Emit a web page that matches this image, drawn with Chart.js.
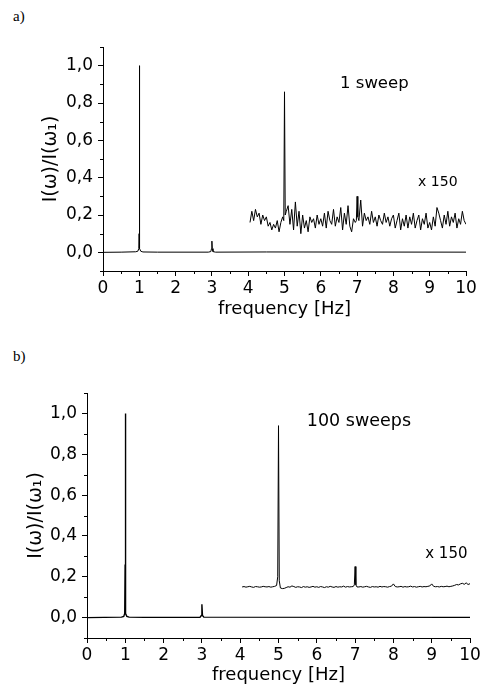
<!DOCTYPE html>
<html><head><meta charset="utf-8">
<script src="https://cdn.jsdelivr.net/npm/chart.js@4/dist/chart.umd.min.js"></script>
<style>
html,body{margin:0;padding:0;background:#fff;width:484px;height:688px;overflow:hidden}
.wrap{position:absolute;left:0;width:484px}
.lab{position:absolute;font-family:"Liberation Serif","DejaVu Serif",serif;font-size:15px;color:#000}
</style></head><body>
<div class="lab" style="left:13px;top:8px">a)</div>
<div class="lab" style="left:13px;top:348px">b)</div>
<div class="wrap" style="top:0;height:330px"><canvas id="c1"></canvas></div>
<div class="wrap" style="top:330px;height:358px"><canvas id="c2"></canvas></div>
<script>
// ---- data ----
const xTickValues = [0,1,2,3,4,5,6,7,8,9,10];
const yTickValues = [0,0.2,0.4,0.6,0.8,1.0];
const xMinorValues = [0.5,1.5,2.5,3.5,4.5,5.5,6.5,7.5,8.5,9.5];
const yMinorValues = [-0.1,0.1,0.3,0.5,0.7,0.9,1.1];

// panel a) main spectrum (1 sweep)
const topMainFreq = [0,0.5,0.9,0.96,0.985,0.995,1.0,1.005,1.015,1.04,1.1,1.5,2.9,2.97,2.99,3.0,3.01,3.03,3.1,4.5,10];
const topMainVal  = [0,0.001,0.003,0.006,0.02,0.1,1.0,0.42,0.02,0.006,0.002,0.001,0.001,0.004,0.02,0.06,0.02,0.004,0.001,0.002,0.001];

// panel b) main spectrum (100 sweeps)
const botMainFreq = [0,0.9,0.96,0.985,0.995,1.0,1.005,1.015,1.04,1.1,1.5,2.95,2.985,3.0,3.015,3.05,10];
const botMainVal  = [0,0.002,0.006,0.02,0.26,1.0,0.58,0.02,0.006,0.002,0.001,0.001,0.01,0.065,0.01,0.002,0.001];

// x 150 magnified traces (shared frequency grid)
const zoomFreq = [
4.05,4.1,4.15,4.2,4.25,4.3,4.35,4.4,4.45,4.5,4.55,4.6,4.65,4.7,4.75,4.8,4.85,4.9,4.95,4.98,5,5.02,
5.05,5.1,5.15,5.2,5.25,5.3,5.35,5.4,5.45,5.5,5.55,5.6,5.65,5.7,5.75,5.8,5.85,5.9,5.95,6,
6.05,6.1,6.15,6.2,6.25,6.3,6.35,6.4,6.45,6.5,6.55,6.6,6.65,6.7,6.75,6.8,6.85,6.9,6.95,6.98,7,7.02,
7.05,7.1,7.15,7.2,7.25,7.3,7.35,7.4,7.45,7.5,7.55,7.6,7.65,7.7,7.75,7.8,7.85,7.9,7.95,8,
8.05,8.1,8.15,8.2,8.25,8.3,8.35,8.4,8.45,8.5,8.55,8.6,8.65,8.7,8.75,8.8,8.85,8.9,8.95,9,
9.05,9.1,9.15,9.2,9.25,9.3,9.35,9.4,9.45,9.5,9.55,9.6,9.65,9.7,9.75,9.8,9.85,9.9,9.95,10];

const topZoomVal = [
0.16,0.22,0.17,0.23,0.19,0.21,0.15,0.20,0.17,0.19,0.14,0.16,0.12,0.15,0.13,0.17,0.11,0.16,0.19,0.17,0.86,0.20,
0.22,0.25,0.15,0.23,0.12,0.27,0.14,0.22,0.10,0.20,0.13,0.17,0.11,0.19,0.16,0.18,0.13,0.20,0.15,0.18,
0.14,0.21,0.13,0.22,0.17,0.15,0.23,0.14,0.19,0.16,0.24,0.12,0.21,0.15,0.25,0.14,0.11,0.18,0.16,0.17,0.30,0.19,
0.17,0.28,0.14,0.21,0.17,0.19,0.15,0.22,0.16,0.19,0.14,0.20,0.17,0.15,0.21,0.16,0.19,0.14,0.18,0.20,
0.13,0.17,0.21,0.12,0.18,0.14,0.20,0.13,0.19,0.15,0.21,0.13,0.17,0.20,0.12,0.18,0.15,0.21,0.13,0.16,
0.12,0.19,0.14,0.24,0.21,0.17,0.13,0.20,0.15,0.22,0.14,0.19,0.16,0.21,0.13,0.18,0.15,0.22,0.17,0.15];

const botZoomVal = [
0.150,0.152,0.149,0.151,0.153,0.150,0.148,0.152,0.151,0.149,0.150,0.153,0.151,0.150,0.152,0.149,0.151,0.153,0.157,0.20,0.94,0.18,
0.145,0.142,0.143,0.147,0.151,0.149,0.155,0.152,0.148,0.151,0.150,0.147,0.152,0.149,0.151,0.148,0.150,0.153,0.149,0.151,
0.148,0.152,0.150,0.147,0.151,0.149,0.153,0.150,0.148,0.152,0.149,0.151,0.150,0.154,0.149,0.152,0.150,0.151,0.152,0.16,0.25,0.16,
0.150,0.150,0.152,0.149,0.151,0.153,0.150,0.148,0.152,0.150,0.151,0.149,0.153,0.150,0.152,0.151,0.149,0.152,0.154,0.165,
0.152,0.150,0.151,0.153,0.149,0.152,0.150,0.151,0.154,0.150,0.152,0.149,0.151,0.153,0.150,0.152,0.151,0.153,0.155,0.165,
0.153,0.151,0.152,0.150,0.153,0.151,0.152,0.154,0.151,0.153,0.155,0.158,0.162,0.160,0.165,0.168,0.163,0.170,0.162,0.166];

const xTitle = 'frequency [Hz]';
const yTitle = 'I(\u03c9)/I(\u03c9\u2081)';

// ---- rendering ----
const FONT = '"DejaVu Sans", "Liberation Sans", sans-serif';
const pairs = (xs, ys) => xs.map((x, i) => ({x: x, y: ys[i]}));

const extras = {
  id: 'extras',
  afterDraw(chart) {
    const ctx = chart.ctx, x = chart.scales.x, y = chart.scales.y, a = chart.chartArea;
    ctx.save();
    ctx.strokeStyle = '#000'; ctx.lineWidth = 1;
    xMinorValues.forEach(v => {
      const px = Math.round(x.getPixelForValue(v)) + 0.5;
      ctx.beginPath(); ctx.moveTo(px, a.bottom); ctx.lineTo(px, a.bottom + 3); ctx.stroke();
    });
    yMinorValues.forEach(v => {
      const py = Math.round(y.getPixelForValue(v)) + 0.5;
      ctx.beginPath(); ctx.moveTo(a.left, py); ctx.lineTo(a.left - 3, py); ctx.stroke();
    });
    ctx.fillStyle = '#000'; ctx.textAlign = 'left'; ctx.textBaseline = 'middle';
    (chart.options.plugins.extras.notes || []).forEach(n => {
      ctx.font = n.size + 'px ' + FONT;
      ctx.fillText(n.text, x.getPixelForValue(n.x), y.getPixelForValue(n.y));
    });
    ctx.restore();
  }
};

function makeChart(id, p) {
  return new Chart(document.getElementById(id), {
    type: 'line',
    data: {
      datasets: [
        {data: pairs(p.mainF, p.mainV), borderColor: '#000', borderWidth: p.mainW, pointRadius: 0, tension: 0, fill: false},
        {data: pairs(zoomFreq, p.zoomV), borderColor: '#000', borderWidth: 1, pointRadius: 0, tension: 0, fill: false}
      ]
    },
    plugins: [extras],
    options: {
      responsive: true, maintainAspectRatio: false, animation: false,
      layout: {padding: {left: p.L, top: p.T, right: p.R, bottom: 0}},
      plugins: {legend: {display: false}, tooltip: {enabled: false}, extras: {notes: p.notes}},
      scales: {
        x: {
          type: 'linear', min: 0, max: 10,
          afterBuildTicks: s => { s.ticks = xTickValues.map(v => ({value: v})); },
          afterFit: s => { s.height = p.xH; },
          ticks: {color: '#000', font: {family: FONT, size: 17}, padding: 2, maxRotation: 0, callback: v => String(v)},
          grid: {drawOnChartArea: false, tickLength: 5, color: '#000'},
          border: {color: '#000', width: 1},
          title: {display: true, text: xTitle, color: '#000', font: {family: FONT, size: 18}, padding: {top: 0, bottom: p.tPad}}
        },
        y: {
          type: 'linear', min: -0.1, max: 1.1,
          afterBuildTicks: s => { s.ticks = yTickValues.map(v => ({value: v})); },
          afterFit: s => { s.width = p.yW; },
          ticks: {color: '#000', font: {family: FONT, size: 17}, padding: 5, callback: v => v.toFixed(1).replace('.', ',')},
          grid: {drawOnChartArea: false, tickLength: 5, color: '#000'},
          border: {color: '#000', width: 1},
          title: {display: true, text: yTitle, color: '#000', font: {family: FONT, size: 19}, padding: {top: 0, bottom: 0}}
        }
      }
    }
  });
}

makeChart('c1', {
  mainF: topMainFreq, mainV: topMainVal, zoomV: topZoomVal, mainW: 1,
  L: 40, yW: 63, R: 18, T: 47, xH: 59, tPad: 10,
  notes: [{text: '1 sweep', x: 6.53, y: 0.905, size: 16.5}, {text: 'x 150', x: 8.68, y: 0.375, size: 14}]
});
makeChart('c2', {
  mainF: botMainFreq, mainV: botMainVal, zoomV: botZoomVal, mainW: 1.4,
  L: 25, yW: 62, R: 14, T: 63, xH: 50, tPad: 2,
  notes: [{text: '100 sweeps', x: 5.74, y: 0.96, size: 17.5}, {text: 'x 150', x: 8.83, y: 0.31, size: 15}]
});
</script>
</body></html>
